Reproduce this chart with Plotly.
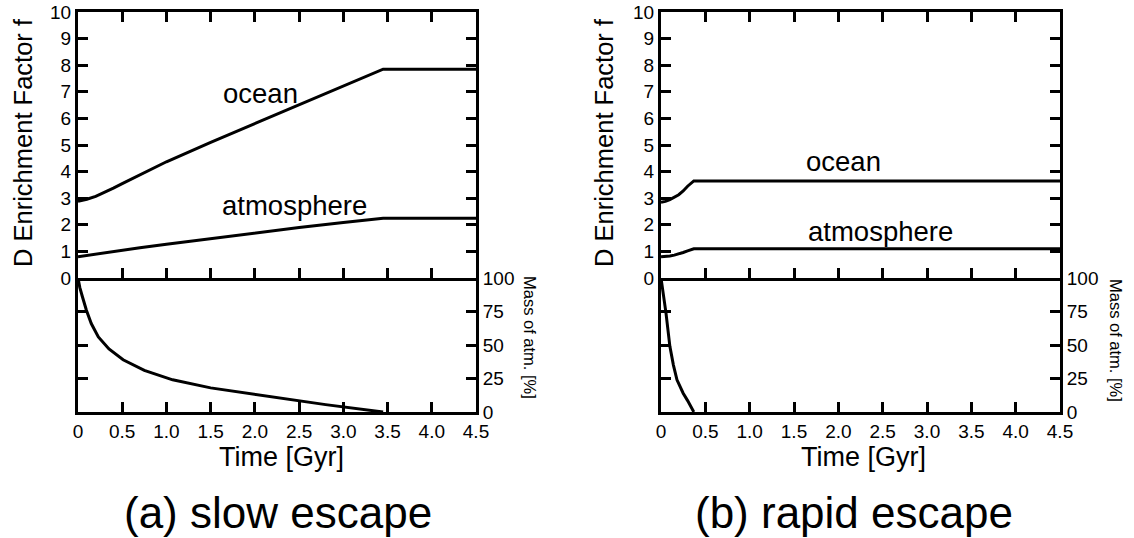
import plotly.graph_objects as go

W, H = 1134, 538

# ---------------- data ----------------
# (a) slow escape
t_slow = [0, 0.1, 0.2, 0.3, 0.4, 0.5, 0.6, 0.8, 1.0, 1.5, 2.0, 2.5, 3.0, 3.45, 4.5]
ocean_slow = [2.88, 2.96, 3.07, 3.21, 3.38, 3.55, 3.71, 4.05, 4.37, 5.1, 5.81, 6.5, 7.2, 7.85, 7.85]
t_slow_atm = [0, 0.2, 0.4, 0.7, 1.0, 1.5, 2.0, 2.5, 3.0, 3.45, 4.5]
atm_slow = [0.8, 0.9, 1.0, 1.14, 1.27, 1.48, 1.71, 1.9, 2.09, 2.25, 2.25]
t_slow_mass = [0, 0.02, 0.05, 0.095, 0.15, 0.23, 0.35, 0.51, 0.75, 1.07, 1.5, 2.2, 2.8, 3.45]
mass_slow = [100, 93, 86, 76, 66, 56, 47, 39, 31, 24, 18, 11.4, 5.5, 0]

# (b) rapid escape
t_rapid = [0, 0.05, 0.1, 0.15, 0.2, 0.25, 0.3, 0.37, 4.5]
ocean_rapid = [2.85, 2.88, 2.95, 3.03, 3.13, 3.27, 3.45, 3.65, 3.65]
atm_rapid = [0.8, 0.81, 0.83, 0.86, 0.9, 0.96, 1.02, 1.1, 1.1]
t_rapid_mass = [0, 0.03, 0.056, 0.1, 0.14, 0.18, 0.25, 0.3, 0.37]
mass_rapid = [100, 87, 74, 49, 35, 24, 14, 8.5, 0]

x_ticks = [0, 0.5, 1.0, 1.5, 2.0, 2.5, 3.0, 3.5, 4.0, 4.5]
x_ticktext = ["0", "0.5", "1.0", "1.5", "2.0", "2.5", "3.0", "3.5", "4.0", "4.5"]
f_ticks = list(range(0, 11))
mass_ticks = [0, 25, 50, 75, 100]

# ---------------- layout helpers ----------------
def px(x):
    return x / W

def py(y):
    return 1 - y / H

FONT = "Liberation Sans, Arial, sans-serif"
LW = 3

left_dom = [px(78), px(476)]
right_dom = [px(661), px(1060)]
upper_dom = [py(278), py(12)]
lower_dom = [py(412), py(278)]

fig = go.Figure()

line_style = dict(color="black", width=LW)

fig.add_trace(go.Scatter(x=t_slow, y=ocean_slow, mode="lines", line=line_style, xaxis="x", yaxis="y"))
fig.add_trace(go.Scatter(x=t_slow_atm, y=atm_slow, mode="lines", line=line_style, xaxis="x", yaxis="y"))
fig.add_trace(go.Scatter(x=t_slow_mass, y=mass_slow, mode="lines", line=line_style, xaxis="x2", yaxis="y2"))
fig.add_trace(go.Scatter(x=t_rapid, y=ocean_rapid, mode="lines", line=line_style, xaxis="x3", yaxis="y3"))
fig.add_trace(go.Scatter(x=t_rapid, y=atm_rapid, mode="lines", line=line_style, xaxis="x3", yaxis="y3"))
fig.add_trace(go.Scatter(x=t_rapid_mass, y=mass_rapid, mode="lines", line=line_style, xaxis="x4", yaxis="y4"))

tickfont = dict(family=FONT, size=19, color="black")

def xax(domain, anchor, labels, mirror, showline=True, side=None, overlaying=None):
    d = dict(domain=domain, anchor=anchor, range=[0, 4.5], tickmode="array", tickvals=x_ticks,
             ticktext=x_ticktext, showticklabels=labels, ticks="inside", ticklen=10,
             tickwidth=LW, tickcolor="#000000", showline=showline, linewidth=LW,
             linecolor="#000000", mirror=mirror, showgrid=False, zeroline=False,
             tickfont=tickfont, automargin=False)
    if side:
        d["side"] = side
    if overlaying:
        d["overlaying"] = overlaying
    return d

def yax(domain, anchor, rng, vals, side=None):
    d = dict(domain=domain, anchor=anchor, range=rng, tickmode="array", tickvals=vals,
             ticks="inside", ticklen=10, tickwidth=LW, tickcolor="#000000",
             showline=True, linewidth=LW, linecolor="#000000", mirror="ticks",
             showgrid=False, zeroline=False, tickfont=tickfont, automargin=False)
    if side:
        d["side"] = side
    return d

fig.update_layout(
    width=W, height=H, margin=dict(l=0, r=0, t=0, b=0),
    paper_bgcolor="white", plot_bgcolor="white", showlegend=False,
    xaxis=xax(left_dom, "y", False, "ticks"),
    xaxis2=xax(left_dom, "y2", True, False),
    xaxis3=xax(right_dom, "y3", False, "ticks"),
    xaxis4=xax(right_dom, "y4", True, False),
    # downward ticks just below the shared middle line (no extra line)
    xaxis5=xax(left_dom, "y2", False, False, showline=False, side="top", overlaying="x2"),
    xaxis6=xax(right_dom, "y4", False, False, showline=False, side="top", overlaying="x4"),
    yaxis=yax(upper_dom, "x", [0, 10], f_ticks),
    yaxis2=yax(lower_dom, "x2", [0, 100], mass_ticks, "right"),
    yaxis3=yax(upper_dom, "x3", [0, 10], f_ticks),
    yaxis4=yax(lower_dom, "x4", [0, 100], mass_ticks, "right"),
)

def ann(text, x, y, size, angle=0):
    fig.add_annotation(text=text, x=px(x), y=py(y), xref="paper", yref="paper",
                       showarrow=False, textangle=angle, xanchor="center", yanchor="middle",
                       font=dict(family=FONT, size=size, color="black"))

def dann(text, x, y, xr, yr, size):
    fig.add_annotation(text=text, x=x, y=y, xref=xr, yref=yr, showarrow=False,
                       xanchor="center", yanchor="middle",
                       font=dict(family=FONT, size=size, color="black"))

# axis titles
ann("D Enrichment Factor f", 23, 143, 25.5, -90)
ann("D Enrichment Factor f", 604, 143, 25.5, -90)
ann("Mass of atm. [%]", 530, 337, 16.5, 90)
ann("Mass of atm. [%]", 1116, 340, 16.5, 90)
ann("Time [Gyr]", 281, 457, 27)
ann("Time [Gyr]", 863, 457, 27)
ann("(a) slow escape", 278, 512, 44)
ann("(b) rapid escape", 854, 512, 44)

# curve labels
dann("ocean", 2.06, 6.95, "x", "y", 27.5)
dann("atmosphere", 2.45, 2.72, "x", "y", 27.5)
dann("ocean", 2.06, 4.38, "x3", "y3", 27.5)
dann("atmosphere", 2.47, 1.75, "x3", "y3", 27.5)

fig.write_html(
    "out.html",
    config={"displayModeBar": False},
    post_script="document.body.style.margin='0';document.body.style.overflow='hidden';",
)
